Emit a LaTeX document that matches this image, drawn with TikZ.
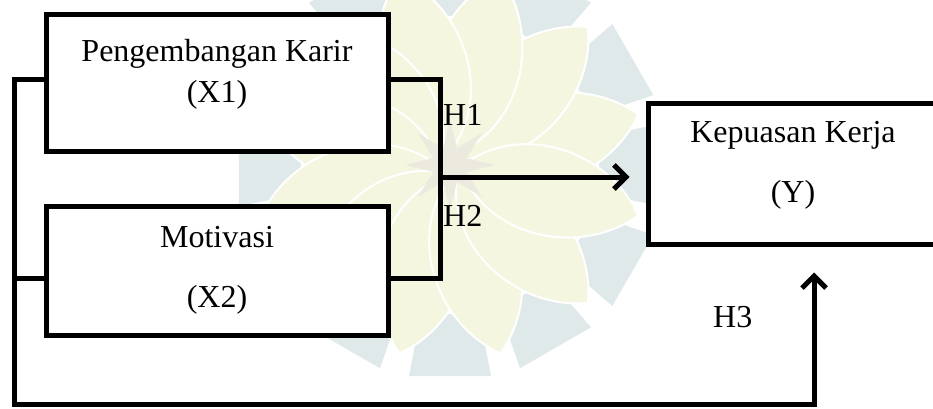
\documentclass[tikz,border=0pt]{standalone}
\usepackage{fontspec}
\setmainfont{Liberation Serif}
\usetikzlibrary{arrows.meta}

\definecolor{wmYellow}{HTML}{F4F6E0}
\definecolor{wmBlue}{HTML}{E0E9EA}
\definecolor{wmStar}{HTML}{ECE9DF}

\tikzset{
  varbox/.style={draw=black, line width=5pt, fill=white, inner sep=0pt},
  link/.style={draw=black, line width=5pt, line join=miter, line cap=rect},
  arrowlink/.style={link, line cap=butt, -{Straight Barb[length=12pt,width=24pt,line width=5pt]}},
  lbl/.style={inner sep=0pt, anchor=base, font=\fontsize{32}{38}\selectfont},
}

\begin{document}
\begin{tikzpicture}[x=1pt, y=-1pt]
\useasboundingbox (0,0) rectangle (933,408);

% faint logo in the background
\begin{scope}[shift={(450,165)}]
  \foreach \a in {0,30,...,330}
    \fill[wmBlue] ({\a-11}:152) -- ({\a-11}:215) -- ({\a+11}:215) -- ({\a+11}:152) -- cycle;
  \foreach \a in {15,45,...,345}
    \filldraw[fill=wmYellow, draw=white, line width=2pt, rotate=\a]
      (10,0) .. controls (55,62) and (150,55) .. (195,0)
             .. controls (150,-55) and (55,-62) .. (10,0) -- cycle;
  \fill[wmStar] (0:45) \foreach \k in {1,...,15} { -- ({\k*22.5}:{mod(\k,2)==1 ? 18 : 45}) } -- cycle;
\end{scope}

% variable boxes
\node[varbox, minimum width=342pt, minimum height=137pt] (x1) at (217,82.5) {};
\node[varbox, minimum width=342pt, minimum height=129pt] (x2) at (217,270.5) {};
\node[varbox, minimum width=296pt, minimum height=141pt] (y) at (796,173.5) {};

% box texts
\node[lbl] (x1a) at (217,61) {Pengembangan Karir};
\node[lbl] (x1b) at (217,102) {(X1)};
\node[lbl] (x2a) at (217,247) {Motivasi};
\node[lbl] (x2b) at (217,307) {(X2)};
\node[lbl] (ya) at (793,142) {Kepuasan Kerja};
\node[lbl] (yb) at (793,202) {(Y)};

% junction points
\coordinate (r1) at (440,79);
\coordinate (r2) at (440,278);
\coordinate (rm) at (440,177);
\coordinate (l1) at (14,79);
\coordinate (l2) at (14,278);
\coordinate (lb) at (14,404);
\coordinate (yb3) at (814,404);

% X1 and X2 joined on the right, arrow to Y
\draw[link] (x1.east |- r1) -- (r1) -- (r2) -- (x2.east |- r2);
\draw[arrowlink] (rm) -- ([xshift=-16pt]y.west |- rm);

% X1 and X2 joined on the left, running under to Y
\draw[link] (x1.west |- l1) -- (l1) -- (lb) -- (yb3);
\draw[link] (x2.west |- l2) -- (l2);
\draw[arrowlink] (yb3) -- ([yshift=-26pt]y.south -| yb3);

% hypothesis labels
\node[lbl, anchor=base west] (h1) at (443,125) {H1};
\node[lbl, anchor=base west] (h2) at (443,226) {H2};
\node[lbl, anchor=base west] (h3) at (713,327) {H3};
\end{tikzpicture}
\end{document}
